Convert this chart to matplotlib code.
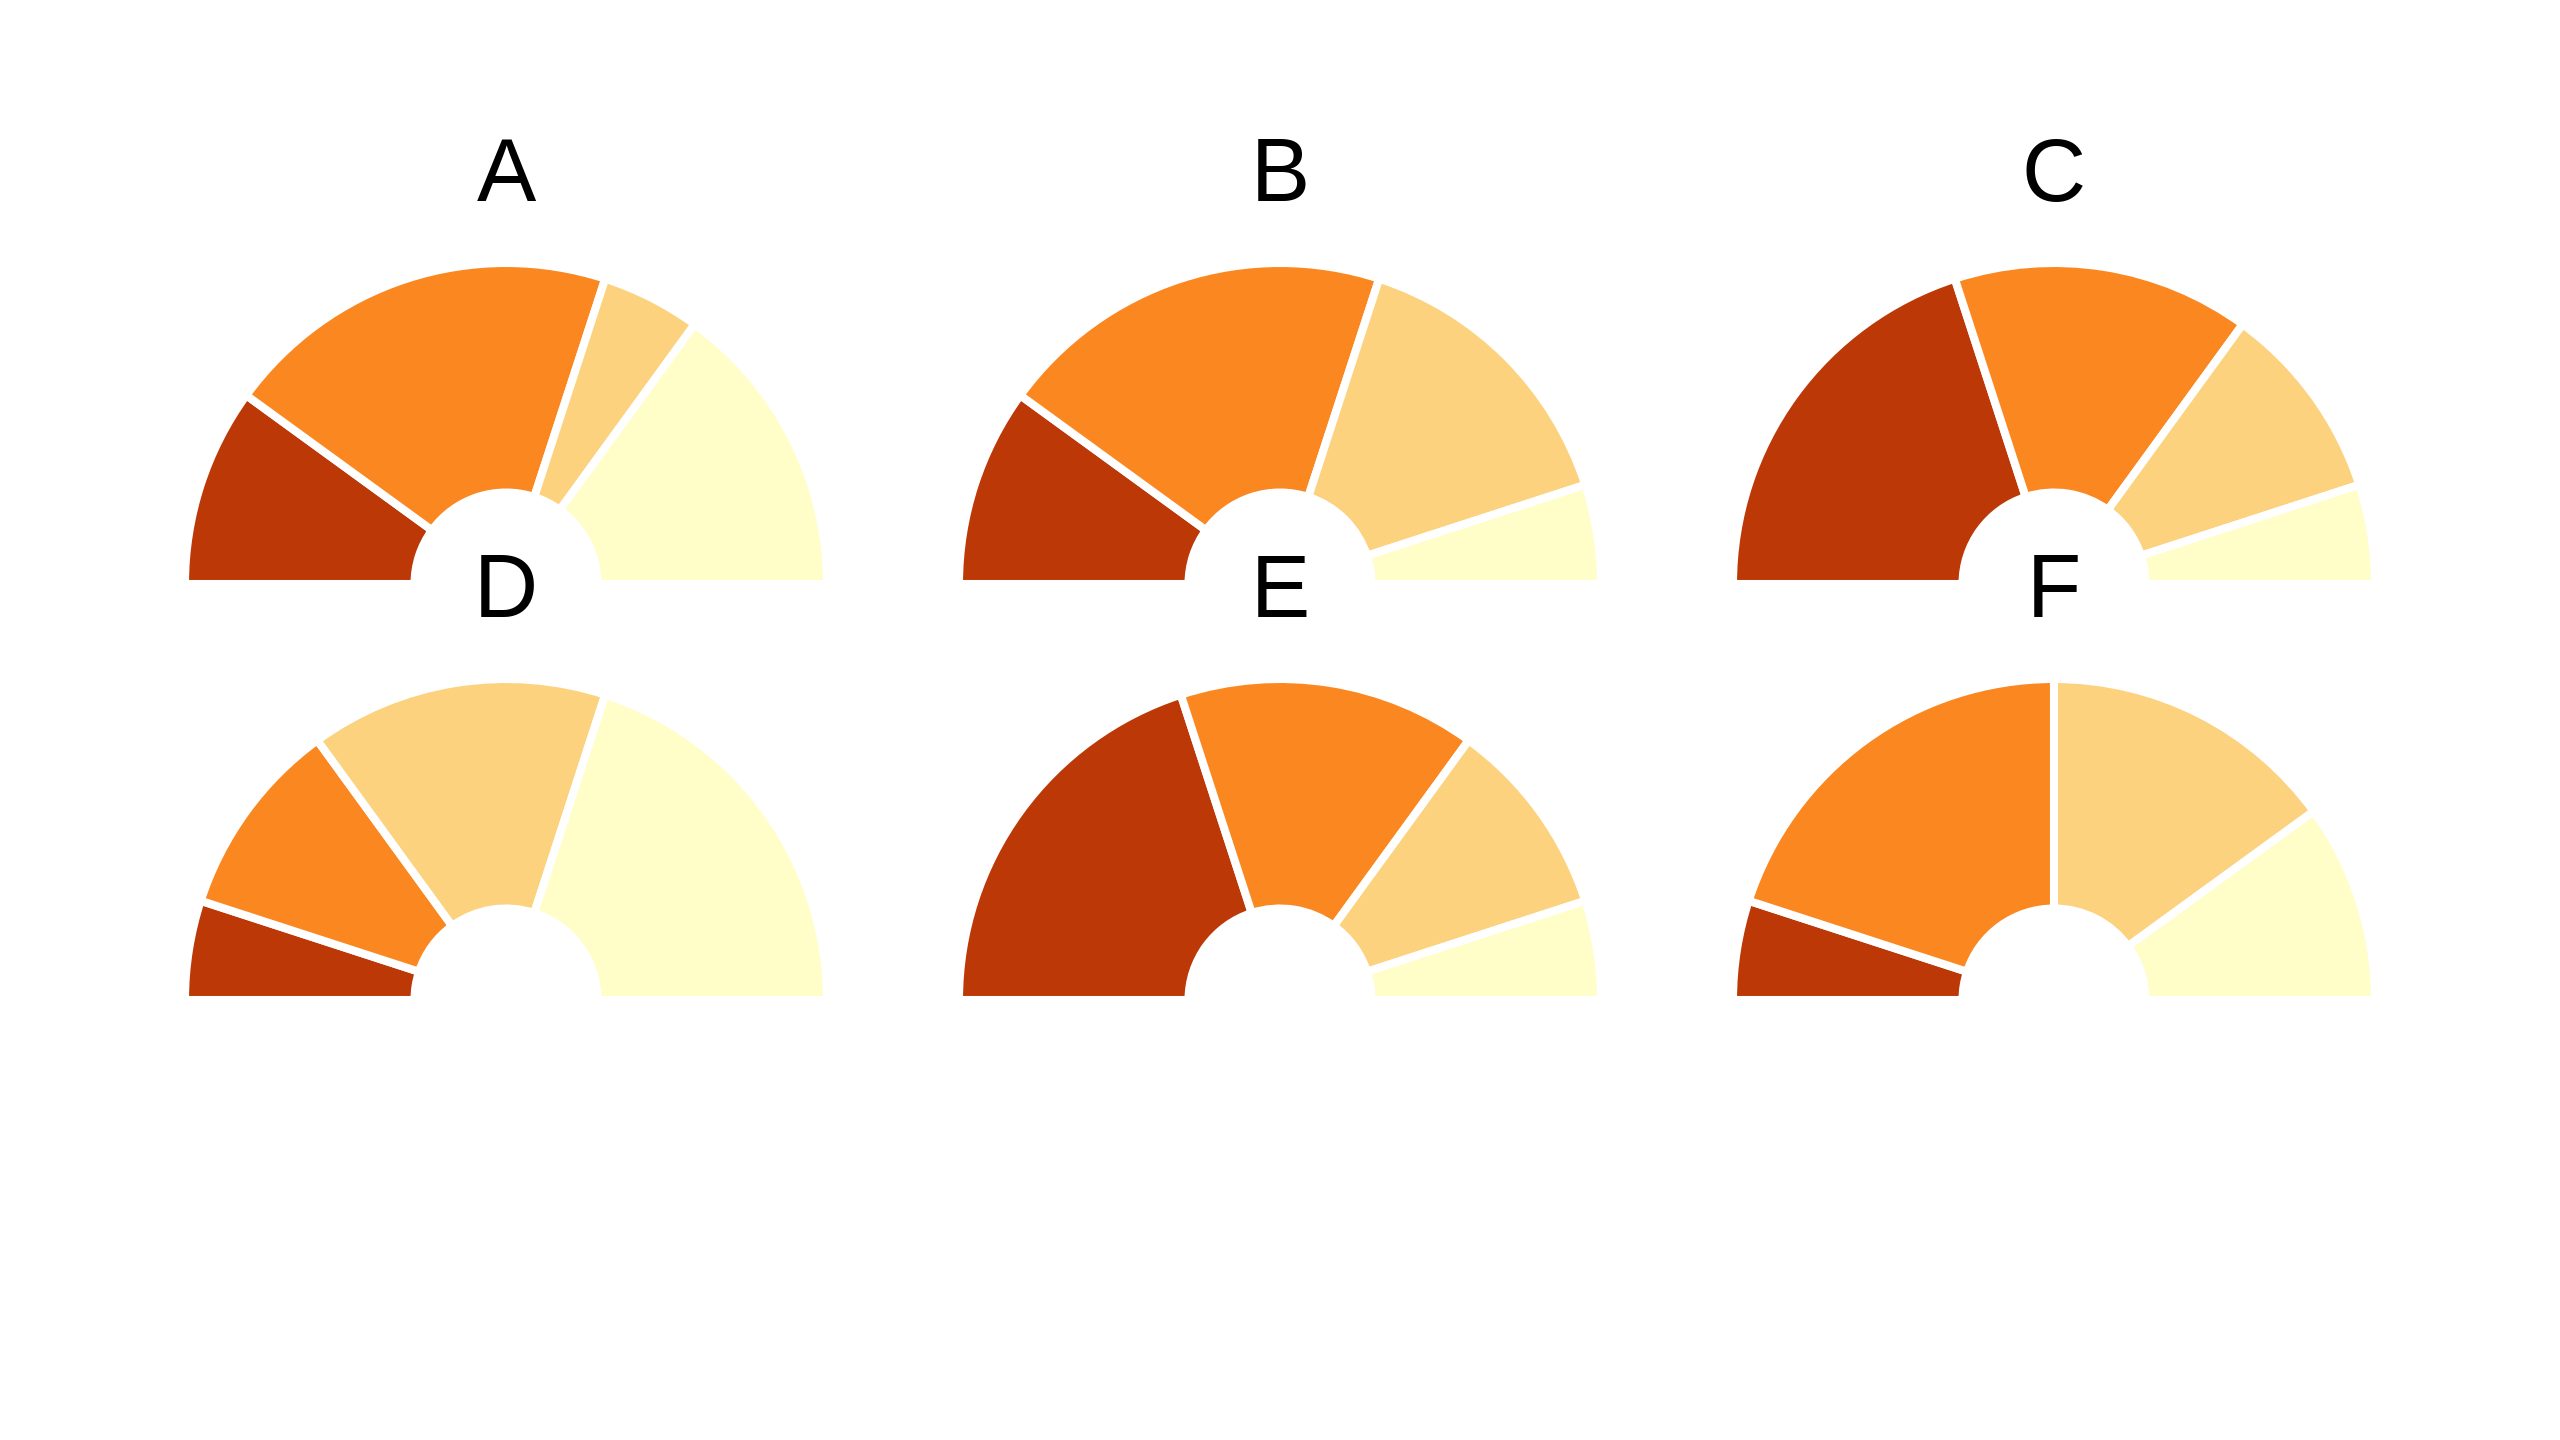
import matplotlib
matplotlib.use("Agg")
import matplotlib.pyplot as plt

# Data
titles = ["A", "B", "C", "D", "E", "F"]
values_A = [2, 4, 1, 3]
values_B = [2, 4, 3, 1]
values_C = [4, 3, 2, 1]
values_D = [1, 2, 3, 4]
values_E = [4, 3, 2, 1]
values_F = [1, 4, 3, 2]
series = [values_A, values_B, values_C, values_D, values_E, values_F]
colors = ["#bd3807", "#fb8720", "#fcd27e", "#fffec8"]

W, H = 2560, 1440
fig = plt.figure(figsize=(W / 100, H / 100), dpi=100)
plt.rcParams['font.family'] = ['Liberation Sans', 'DejaVu Sans']

centers_x = [506, 1280, 2054]
centers_y = [584, 1000]
title_base_y = [201, 617]
R = 321

for i, (t, vals) in enumerate(zip(titles, series)):
    r, c = divmod(i, 3)
    cx, cy = centers_x[c], centers_y[r]
    ax = fig.add_axes([(cx - R) / W, (H - cy - R) / H, 2 * R / W, 2 * R / H])
    ax.patch.set_alpha(0)
    wedges, _ = ax.pie(vals + [sum(vals)], startangle=180, counterclock=False,
                       colors=colors + ["white"], radius=1.0,
                       wedgeprops=dict(width=0.715, edgecolor="white", linewidth=5.8))
    wedges[-1].set_visible(False)
    ax.set_xlim(-1, 1)
    ax.set_ylim(-1, 1)
    ax.set_aspect("auto")
    ax.axis("off")
    fig.text(cx / W, 1 - title_base_y[r] / H, t, ha="center", va="baseline",
             fontsize=64, color="black", zorder=10)

fig.savefig("out.png", dpi=100, facecolor="white")
